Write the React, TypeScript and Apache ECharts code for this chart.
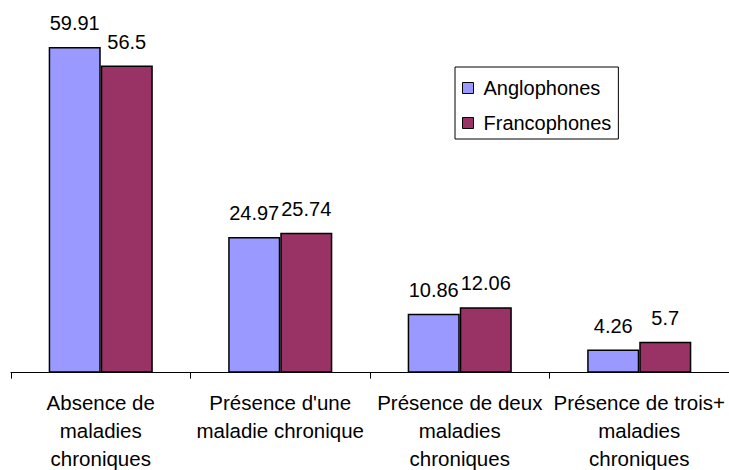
import React, { useEffect, useRef } from "react";
import * as echarts from "echarts";

const categories = [
  "Absence de\nmaladies\nchroniques",
  "Présence d'une\nmaladie chronique",
  "Présence de deux\nmaladies\nchroniques",
  "Présence de trois+\nmaladies\nchroniques",
];
const anglophones = [59.91, 24.97, 10.86, 4.26];
const francophones = [56.5, 25.74, 12.06, 5.7];
const seriesNames = ["Anglophones", "Francophones"];

const FONT = "'Liberation Sans', Arial, Helvetica, sans-serif";

export default function App() {
  const ref = useRef<HTMLDivElement>(null);
  useEffect(() => {
    if (!ref.current) return;
    const chart = echarts.init(ref.current, undefined, { renderer: "svg" });
    const label = {
      show: true,
      position: "top",
      distance: 14,
      color: "#000",
      fontSize: 20,
      fontFamily: FONT,
    };
    chart.setOption({
      animation: false,
      backgroundColor: "#fff",
      textStyle: { fontFamily: FONT },
      grid: {
        left: 11,
        right: 0,
        top: 46.6,
        bottom: 97.3,
        containLabel: false,
        outerBoundsMode: "none",
      },
      legend: {
        orient: "vertical",
        left: 455,
        top: 67,
        itemWidth: 11,
        itemHeight: 11,
        itemGap: 15,
        padding: [11, 7, 6, 7],
        borderColor: "#000",
        borderWidth: 1,
        icon: "rect",
        itemStyle: { borderColor: "#000", borderWidth: 1 },
        textStyle: {
          fontSize: 20,
          lineHeight: 20,
          color: "#000",
          fontFamily: FONT,
          padding: [0, 0, 0, 5],
        },
        data: seriesNames,
      },
      xAxis: {
        type: "category",
        data: categories,
        axisLine: { lineStyle: { color: "#000", width: 1 } },
        axisTick: { show: true, length: 6, lineStyle: { color: "#000" } },
        axisLabel: {
          color: "#000",
          fontSize: 20.5,
          lineHeight: 28,
          margin: 16,
          fontFamily: FONT,
          interval: 0,
        },
      },
      yAxis: {
        type: "value",
        min: 0,
        max: 60,
        show: false,
        splitLine: { show: false },
      },
      series: [
        {
          name: seriesNames[0],
          type: "bar",
          data: anglophones,
          barGap: "0%",
          barCategoryGap: "42%",
          itemStyle: { color: "#9999FF", borderColor: "#000", borderWidth: 1.5 },
          label,
        },
        {
          name: seriesNames[1],
          type: "bar",
          data: francophones,
          barGap: "0%",
          barCategoryGap: "42%",
          itemStyle: { color: "#993366", borderColor: "#000", borderWidth: 1.5 },
          label,
        },
      ],
    });
    return () => chart.dispose();
  }, []);
  return (
    <div
      ref={ref}
      style={{ position: "fixed", left: 0, top: 0, width: 729, height: 470 }}
    />
  );
}
